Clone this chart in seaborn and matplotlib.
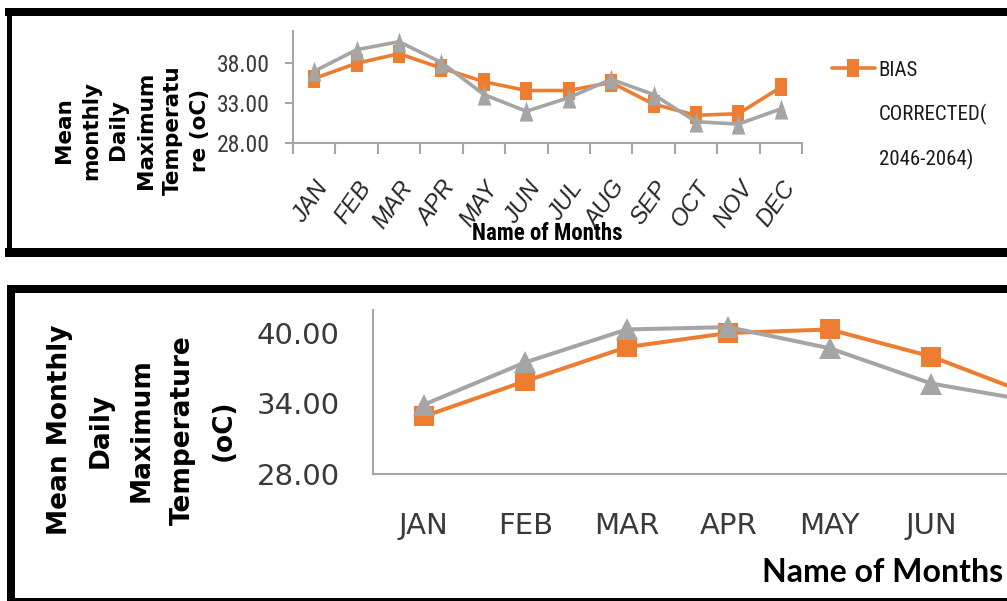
import numpy as np
import pandas as pd
import matplotlib
matplotlib.use("Agg")
import matplotlib.pyplot as plt
import seaborn as sns
from matplotlib import font_manager
from matplotlib.lines import Line2D
from matplotlib.legend_handler import HandlerLine2D

# ---- data -------------------------------------------------------------
months = ["JAN", "FEB", "MAR", "APR", "MAY", "JUN",
          "JUL", "AUG", "SEP", "OCT", "NOV", "DEC"]

# upper chart: 2046-2064 projection, all twelve months
upper_bias_corrected = [36.0, 37.9, 39.1, 37.3, 35.6, 34.5,
                        34.5, 35.5, 32.8, 31.4, 31.6, 34.9]
upper_baseline = [36.9, 39.6, 40.6, 38.0, 34.0, 31.9,
                  33.6, 35.9, 34.0, 30.6, 30.3, 32.2]
upper_yticks = [28, 33, 38]

# lower chart: first months of the year
lower_months = ["JAN", "FEB", "MAR", "APR", "MAY", "JUN", "JUL"]
lower_bias_corrected = [32.9, 35.9, 38.8, 40.0, 40.3, 38.0, 34.7]
lower_baseline = [33.9, 37.5, 40.3, 40.5, 38.7, 35.7, 34.2]
lower_yticks = [28, 34, 40]

legend_label = "BIAS\nCORRECTED(\n2046-2064)"
upper_ylabel = "Mean\nmonthly\nDaily\nMaximum\nTemperatu\nre (oC)"
lower_ylabel = "Mean Monthly\nDaily\nMaximum\nTemperature\n(oC)"
xlabel = "Name of Months"

# ---- style ------------------------------------------------------------
sns.set_style("white")

_names = {f.name for f in font_manager.fontManager.ttflist}


def pick_font(*names):
    for n in names:
        if n in _names:
            return n
    return "DejaVu Sans"


NARROW = pick_font("Liberation Sans Narrow", "DejaVu Sans Condensed",
                   "Roboto Condensed", "Liberation Sans")
ITALIC_FONT = pick_font("Liberation Sans", "Open Sans")
plt.rcParams["font.family"] = ["DejaVu Sans"]

ORANGE = "#ED7D31"
GREY = "#A5A5A5"
AXIS_GREY = "#A6A6A6"
TICK_TEXT = "#3A3A3A"

W, H = 1007, 601
fig = plt.figure(figsize=(W / 100, H / 100), dpi=100)


def px_axes(left, top, right, bottom):
    return fig.add_axes([left / W, 1 - bottom / H,
                         (right - left) / W, (bottom - top) / H])


# tall markers for the vertically stretched upper chart
tall_square = [(-0.36, -0.5), (0.36, -0.5), (0.36, 0.5), (-0.36, 0.5), (-0.36, -0.5)]
tall_triangle = [(0.0, 0.5), (-0.34, -0.5), (0.34, -0.5), (0.0, 0.5)]


class FirstLineHandler(HandlerLine2D):
    """Legend line handle lifted to sit beside the first line of a wrapped label."""

    def __init__(self, lift, **kw):
        super().__init__(**kw)
        self.lift = lift

    def create_artists(self, legend, orig_handle, xdescent, ydescent,
                       width, height, fontsize, trans):
        arts = super().create_artists(legend, orig_handle, xdescent, ydescent,
                                      width, height, fontsize, trans)
        for a in arts:
            a.set_ydata(np.asarray(a.get_ydata()) + self.lift)
        return arts


# ---- upper chart ------------------------------------------------------
ax1 = px_axes(293, 30.5, 802, 142.5)
df_up = pd.DataFrame({"pos": np.arange(len(months)),
                      "bias": upper_bias_corrected,
                      "base": upper_baseline})
sns.lineplot(data=df_up, x="pos", y="bias", ax=ax1, color=ORANGE, lw=2.6,
             marker=tall_square, markersize=12.5, markeredgewidth=0,
             legend=False)
sns.lineplot(data=df_up, x="pos", y="base", ax=ax1, color=GREY, lw=2.6,
             marker=tall_triangle, markersize=14.5, markeredgewidth=0,
             legend=False)
ax1.set_xlim(-0.5, len(months) - 0.5)
ax1.set_ylim(28, 42)
ax1.set_yticks(upper_yticks)
ax1.set_yticklabels([f"{v:.2f}" for v in upper_yticks],
                    family=NARROW, fontsize=17, color=TICK_TEXT)
ax1.set_xticks(np.arange(-0.5, len(months)), labels=[""] * (len(months) + 1))
ax1.set_xticks(np.arange(len(months)), minor=True)
ax1.set_xticklabels(months, minor=True, rotation=55, ha="right", va="top",
                    rotation_mode="anchor", family=ITALIC_FONT, style="italic",
                    fontsize=17, color="#262626")
ax1.tick_params(axis="x", which="major", bottom=True, length=8, width=1.5,
                color=AXIS_GREY)
ax1.tick_params(axis="x", which="minor", bottom=True, length=0, pad=25)
ax1.tick_params(axis="y", left=True, length=6, width=1.5, color=AXIS_GREY, pad=11)
for s in ("top", "right"):
    ax1.spines[s].set_visible(False)
for s in ("left", "bottom"):
    ax1.spines[s].set_color(AXIS_GREY)
    ax1.spines[s].set_linewidth(1.5)
ax1.set_ylabel("")
ax1.set_xlabel(xlabel, family=NARROW, fontweight="bold", fontsize=16.5,
               color="black", va="center")
ax1.xaxis.set_label_coords(0.5, (142.5 - 233) / 112)

fig.text(132 / W, 1 - 130 / H, upper_ylabel, rotation=90, ha="center",
         va="center", multialignment="center", fontweight="bold",
         fontsize=15.5, linespacing=1.45, color="black")

bias_line = ax1.get_lines()[0]
leg = fig.legend(handles=[bias_line], labels=[legend_label],
                 loc="upper left", bbox_to_anchor=(832 / W, 1 - 61 / H),
                 frameon=False, prop={"family": NARROW, "size": 15},
                 handlelength=2.05, handletextpad=0.2, borderpad=0,
                 borderaxespad=0,
                 handler_map={bias_line: FirstLineHandler(lift=34)})
for t in leg.get_texts():
    t.set_linespacing(2.45)
    t.set_color("#1A1A1A")

# ---- lower chart ------------------------------------------------------
step = 101.5
ax2 = px_axes(373, 309.5, 373 + step * len(lower_months), 474)
df_low = pd.DataFrame({"pos": np.arange(len(lower_months)),
                       "bias": lower_bias_corrected,
                       "base": lower_baseline})
sns.lineplot(data=df_low, x="pos", y="bias", ax=ax2, color=ORANGE, lw=2.9,
             marker="s", markersize=14.4, markeredgewidth=0, legend=False)
sns.lineplot(data=df_low, x="pos", y="base", ax=ax2, color=GREY, lw=2.9,
             marker="^", markersize=15.5, markeredgewidth=0, legend=False)
ax2.set_xlim(-0.5, len(lower_months) - 0.5)
ax2.set_ylim(28, 42)
ax2.set_yticks(lower_yticks)
ax2.set_yticklabels([f"{v:.2f}" for v in lower_yticks], fontsize=21,
                    color=TICK_TEXT)
# the JUL column runs past the panel's right edge, so only the first six are labelled
shown = lower_months[:-1]
ax2.set_xticks(np.arange(len(shown)))
ax2.set_xticklabels(shown, fontsize=21, color=TICK_TEXT)
ax2.tick_params(axis="x", length=0, pad=27)
ax2.tick_params(axis="y", length=0, pad=24)
for s in ("top", "right"):
    ax2.spines[s].set_visible(False)
for s in ("left", "bottom"):
    ax2.spines[s].set_color(AXIS_GREY)
    ax2.spines[s].set_linewidth(1.5)
ax2.set_ylabel("")
ax2.set_xlabel(xlabel, family="Lato", fontweight="bold", fontsize=23,
               color="black", va="center", ha="center")
ax2.xaxis.set_label_coords((883 - 373) / (step * len(lower_months)),
                           (474 - 573) / 164.5)

fig.text(142 / W, 1 - 430 / H, lower_ylabel, rotation=90, ha="center",
         va="center", multialignment="center", fontweight="bold",
         fontsize=19, linespacing=1.75, color="black")


# ---- black panel frames (open on the right) ---------------------------
def frame_line(x0, y0, x1, y1, width_px):
    fig.add_artist(Line2D([x0 / W, x1 / W], [1 - y0 / H, 1 - y1 / H],
                          transform=fig.transFigure, color="black",
                          linewidth=width_px * 0.72, solid_capstyle="projecting",
                          clip_on=False))


# upper panel
frame_line(8.5, 12, 1040, 12, 8)
frame_line(8.5, 252, 1040, 252, 9)
frame_line(8.5, 12, 8.5, 252, 5)
# lower panel
frame_line(11, 289, 1040, 289, 8)
frame_line(11, 601.5, 1040, 601.5, 8)
frame_line(11, 289, 11, 601.5, 8)

fig.savefig("out.png", dpi=100)
